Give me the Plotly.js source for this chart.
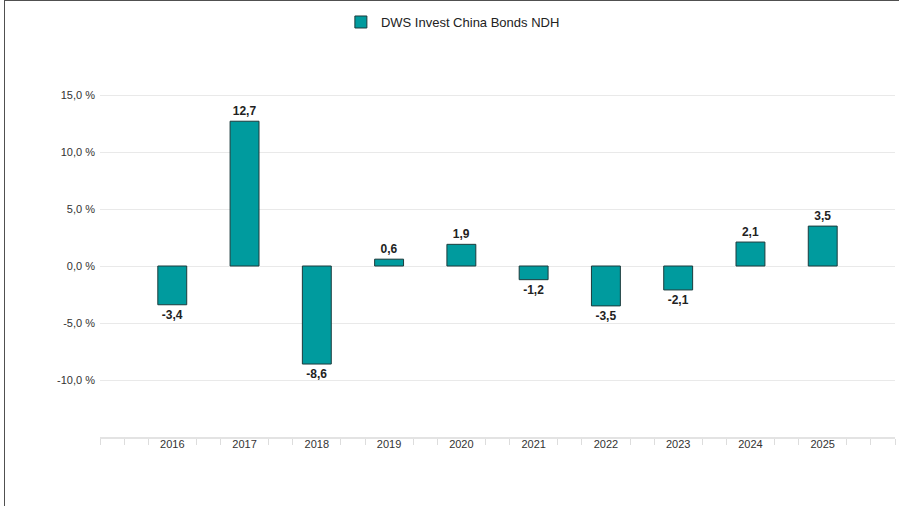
<!DOCTYPE html>
<html>
<head>
<meta charset="utf-8">
<script src="https://cdn.plot.ly/plotly-3.0.1.min.js"></script>
<style>
  html, body { margin: 0; padding: 0; background: #fff; }
  #wrap { position: relative; width: 899px; height: 506px; overflow: hidden; }
  #chart { position: absolute; left: 0; top: 0; width: 899px; height: 506px; }
  #frame { position: absolute; left: 4px; top: 0; width: 900px; height: 510px;
           border-left: 1.5px solid #505050; border-top: 1.5px solid #505050; pointer-events: none; }
</style>
</head>
<body>
<div id="wrap">
  <div id="chart"></div>
  <div id="frame"></div>
</div>
<script>
const seriesName = "DWS Invest China Bonds NDH";
const years = ["2016", "2017", "2018", "2019", "2020", "2021", "2022", "2023", "2024", "2025"];
const returns = [-3.4, 12.7, -8.6, 0.6, 1.9, -1.2, -3.5, -2.1, 2.1, 3.5];
const yTickVals = [-15, -10, -5, 0, 5, 10, 15, 20];
const yTickText = ["", "-10,0 %", "-5,0 %", "0,0 %", "5,0 %", "10,0 %", "15,0 %", ""];

const xIdx = years.map((_, i) => i);
const labels = returns.map(v => v.toFixed(1).replace('.', ','));

// minor tick positions: thirds of each category slot, skipping the label positions
const minorVals = [];
for (let k = -3; k <= 30; k++) {
  if (k % 3 !== 0 || k === -3 || k === 30) minorVals.push(k / 3);
}

const FONT = "Arial, 'Liberation Sans', Helvetica, sans-serif";

const trace = {
  type: 'bar',
  name: seriesName,
  x: xIdx,
  y: returns,
  width: 0.4,
  marker: { color: '#009B9E', line: { color: '#1c3b3c', width: 1 } },
  text: labels,
  textposition: 'outside',
  cliponaxis: false,
  textfont: { family: FONT, size: 12, color: '#222', weight: 'bold' },
  hoverinfo: 'skip',
  showlegend: true
};

const layout = {
  width: 899,
  height: 506,
  margin: { l: 100, r: 4, t: 38, b: 69 },
  paper_bgcolor: '#ffffff',
  plot_bgcolor: '#ffffff',
  font: { family: FONT, size: 11, color: '#333' },
  showlegend: true,
  legend: {
    orientation: 'h',
    x: 0.303, xanchor: 'left',
    y: 1.04, yanchor: 'middle',
    font: { family: FONT, size: 13, color: '#222' },
    itemwidth: 30,
    bgcolor: 'rgba(0,0,0,0)'
  },
  xaxis: {
    type: 'linear',
    range: [-1, 10],
    tickmode: 'array',
    tickvals: xIdx,
    ticktext: years,
    ticks: '',
    ticklabelstandoff: -4,
    showgrid: false,
    zeroline: false,
    showline: true,
    linecolor: '#e3e3e3',
    linewidth: 2,
    tickfont: { family: FONT, size: 11, color: '#333' },
    minor: { tickmode: 'array', tickvals: minorVals, ticks: 'outside', ticklen: 6, tickwidth: 1, tickcolor: '#dddddd', showgrid: false },
    fixedrange: true
  },
  yaxis: {
    range: [-15, 20],
    tickmode: 'array',
    tickvals: yTickVals,
    ticktext: yTickText,
    showgrid: true,
    gridcolor: '#e9e9e9',
    gridwidth: 1,
    zeroline: false,
    showline: false,
    ticks: '',
    ticklabelstandoff: 4,
    tickfont: { family: FONT, size: 11, color: '#333' },
    fixedrange: true
  },
  bargap: 0.6
};

Plotly.newPlot('chart', [trace], layout, { displayModeBar: false, staticPlot: true });
</script>
</body>
</html>
